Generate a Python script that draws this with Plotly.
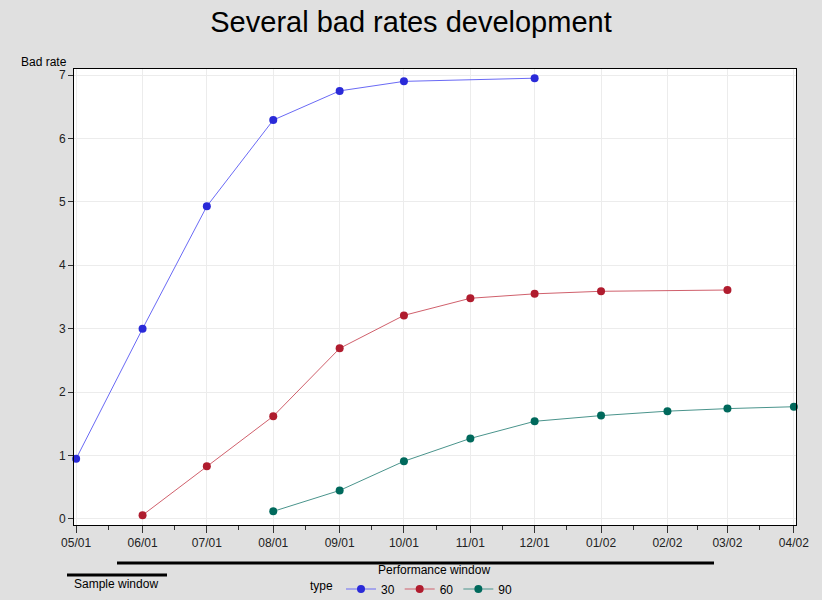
import plotly.graph_objects as go

months = ["2001-05-01", "2001-06-01", "2001-07-01", "2001-08-01", "2001-09-01", "2001-10-01",
          "2001-11-01", "2001-12-01", "2002-01-01", "2002-02-01", "2002-03-01", "2002-04-01"]
tick_labels = ["05/01", "06/01", "07/01", "08/01", "09/01", "10/01",
               "11/01", "12/01", "01/02", "02/02", "03/02", "04/02"]
minor_ticks = ["2001-05-16", "2001-06-16", "2001-07-16", "2001-08-16", "2001-09-16", "2001-10-16",
               "2001-11-16", "2001-12-16", "2002-01-16", "2002-02-15", "2002-03-16"]

x30 = ["2001-05-01", "2001-06-01", "2001-07-01", "2001-08-01", "2001-09-01", "2001-10-01", "2001-12-01"]
y30 = [0.95, 3.00, 4.93, 6.29, 6.75, 6.90, 6.95]

x60 = ["2001-06-01", "2001-07-01", "2001-08-01", "2001-09-01", "2001-10-01", "2001-11-01",
       "2001-12-01", "2002-01-01", "2002-03-01"]
y60 = [0.06, 0.83, 1.62, 2.69, 3.21, 3.48, 3.55, 3.59, 3.61]

x90 = ["2001-08-01", "2001-09-01", "2001-10-01", "2001-11-01", "2001-12-01", "2002-01-01",
       "2002-02-01", "2002-03-01", "2002-04-01"]
y90 = [0.12, 0.45, 0.91, 1.27, 1.54, 1.63, 1.70, 1.74, 1.77]

series = [
    ("30", x30, y30, "#6a6af5", "#2a2ad8"),
    ("60", x60, y60, "#d0606c", "#b01c2e"),
    ("90", x90, y90, "#4a948c", "#00695c"),
]

FONT = "Liberation Sans, Arial, sans-serif"

fig = go.Figure()
for name, xs, ys, lc, mc in series:
    fig.add_trace(go.Scatter(
        x=xs, y=ys, name=name, mode="lines+markers",
        line=dict(color=lc, width=1),
        marker=dict(color=mc, size=8, symbol="circle"),
        cliponaxis=False,
    ))

L, R, T, B = 74, 26, 69, 75
W, H = 822, 600
pw, ph = W - L - R, H - T - B

def px(x):
    return (x - L) / pw

def py(y):
    return (H - B - y) / ph

shapes = [
    dict(type="line", xref="paper", yref="paper", x0=px(117), x1=px(714), y0=py(563), y1=py(563),
         line=dict(color="black", width=3)),
    dict(type="line", xref="paper", yref="paper", x0=px(67), x1=px(167), y0=py(575), y1=py(575),
         line=dict(color="black", width=3)),
]

annotations = [
    dict(text="Performance window", xref="paper", yref="paper", x=px(434), y=py(570),
         showarrow=False, font=dict(size=12, color="#000000", family=FONT), xanchor="center", yanchor="middle"),
    dict(text="Sample window", xref="paper", yref="paper", x=px(116), y=py(584),
         showarrow=False, font=dict(size=12, color="#000000", family=FONT), xanchor="center", yanchor="middle"),
    dict(text="Bad rate", xref="paper", yref="paper", x=px(69), y=py(62),
         showarrow=False, font=dict(size=12, color="#000000", family=FONT), xanchor="right", yanchor="middle"),
]

fig.update_layout(
    width=W, height=H,
    margin=dict(l=L, r=R, t=T, b=B),
    paper_bgcolor="#e0e0e0",
    plot_bgcolor="#ffffff",
    font=dict(family=FONT, size=12, color="#000000"),
    title=dict(text="Several bad rates development", x=0.5, xanchor="center", y=1 - 22 / H, yanchor="middle",
               font=dict(size=29, color="#000000", family=FONT)),
    showlegend=True,
    legend=dict(orientation="h", xref="container", yref="container",
                x=308 / W, xanchor="left", y=1 - 589 / H, yanchor="middle",
                bgcolor="rgba(0,0,0,0)", font=dict(size=12, family=FONT),
                title=dict(text="type", side="left", font=dict(size=12, family=FONT)),
                itemwidth=30, tracegroupgap=0),
    shapes=shapes,
    annotations=annotations,
)

fig.update_xaxes(
    type="date",
    range=["2001-04-30", "2002-04-02"],
    tickmode="array", tickvals=months, ticktext=tick_labels,
    ticks="outside", ticklen=7, tickcolor="#333333", tickwidth=1,
    tickfont=dict(size=12, color="#222222", family=FONT),
    showgrid=True, gridcolor="#ececec", gridwidth=1,
    showline=True, linecolor="#000000", linewidth=1, mirror=True,
    zeroline=False,
    minor=dict(tickmode="array", tickvals=minor_ticks, ticks="outside", ticklen=4, tickcolor="#333333", showgrid=False),
)
fig.update_yaxes(
    range=[-0.095, 7.095],
    tickmode="array", tickvals=[0, 1, 2, 3, 4, 5, 6, 7],
    ticks="outside", ticklen=5, tickcolor="#333333",
    tickfont=dict(size=12, color="#222222", family=FONT),
    showgrid=True, gridcolor="#ececec", gridwidth=1,
    showline=True, linecolor="#000000", linewidth=1, mirror=True,
    zeroline=False,
)

fig.write_html("out.html", config={"displayModeBar": False},
               post_script="document.body.style.margin='0';document.body.style.overflow='hidden';")
